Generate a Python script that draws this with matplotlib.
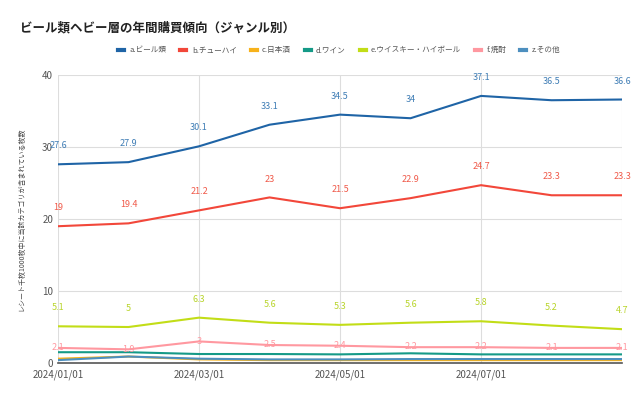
import matplotlib
matplotlib.use('Agg')
import matplotlib.pyplot as plt

plt.rcParams['font.family'] = ['Noto Sans CJK JP', 'DejaVu Sans']

# データ（月次）
months = ['2024/01/01', '2024/02/01', '2024/03/01', '2024/04/01', '2024/05/01',
          '2024/06/01', '2024/07/01', '2024/08/01', '2024/09/01']
tick_labels = ['2024/01/01', '', '2024/03/01', '', '2024/05/01', '', '2024/07/01', '', '']

beer = [27.6, 27.9, 30.1, 33.1, 34.5, 34, 37.1, 36.5, 36.6]
chuhai = [19, 19.4, 21.2, 23, 21.5, 22.9, 24.7, 23.3, 23.3]
sake = [0.6, 0.9, 0.5, 0.4, 0.4, 0.4, 0.4, 0.4, 0.4]
wine = [1.5, 1.5, 1.25, 1.25, 1.2, 1.35, 1.2, 1.2, 1.2]
whisky = [5.1, 5, 6.3, 5.6, 5.3, 5.6, 5.8, 5.2, 4.7]
shochu = [2.1, 1.9, 3, 2.5, 2.4, 2.2, 2.2, 2.1, 2.1]
other = [0.4, 0.9, 0.6, 0.5, 0.5, 0.55, 0.55, 0.55, 0.55]

series = [
    ('a.ビール類', beer, '#1f64a6', '#3f7db5', True, 10),
    ('b.チューハイ', chuhai, '#f2473a', '#f05a4a', True, 10),
    ('c.日本酒', sake, '#f7b21b', None, False, 0),
    ('d.ワイン', wine, '#159a87', None, False, 0),
    ('e.ウイスキー・ハイボール', whisky, '#c2dd17', '#b8d42a', True, 10),
    ('f.焼酎', shochu, '#ff98a0', '#ff98a0', True, -3),
    ('z.その他', other, '#4d8fbf', None, False, 0),
]

fig = plt.figure(figsize=(6.4, 3.97), dpi=100)
ax = fig.add_axes([0.0906, 0.0856, 0.8814, 0.7254])

x = list(range(len(months)))
for name, vals, col, lcol, show, off in series:
    ax.plot(x, vals, color=col, lw=1.5, label=name, zorder=3)
    if show:
        for xi, v in zip(x, vals):
            ax.annotate(f'{v:g}', (xi, v), xytext=(0, off), textcoords='offset points',
                        ha='center', va='bottom', fontsize=6.5, color=lcol, zorder=4)

ax.set_xlim(0, len(months) - 1)
ax.set_ylim(0, 40)
ax.set_yticks([0, 10, 20, 30, 40])
ax.set_xticks(x)
ax.set_xticklabels(tick_labels)
ax.tick_params(axis='both', length=0, labelsize=7, colors='#555555')
ax.tick_params(axis='x', pad=5)

ax.grid(axis='y', color='#dddddd', lw=0.8)
for xi in [0, 2, 4, 6, 8]:
    ax.axvline(xi, color='#dddddd', lw=0.8, zorder=1)
for s in ['top', 'right', 'left']:
    ax.spines[s].set_visible(False)
ax.spines['bottom'].set_color('#555555')
ax.spines['bottom'].set_linewidth(1.2)

ax.set_ylabel('レシート千枚1000枚中に当該カテゴリが含まれている枚数', fontsize=5, color='#444444')
ax.yaxis.set_label_coords(-0.058, 0.5)

fig.text(0.032, 0.93, 'ビール類ヘビー層の年間購買傾向（ジャンル別）', fontsize=9, color='#222222',
         va='center', ha='left', fontweight='bold')

leg = fig.legend(loc='center', bbox_to_anchor=(0.53, 0.873), ncol=7, frameon=False,
                 fontsize=5.5, handlelength=0.8, handletextpad=0.7, columnspacing=1.8)
for h in leg.get_lines():
    h.set_linewidth(3)
for t in leg.get_texts():
    t.set_color('#555555')

fig.savefig('out.png', dpi=100)
